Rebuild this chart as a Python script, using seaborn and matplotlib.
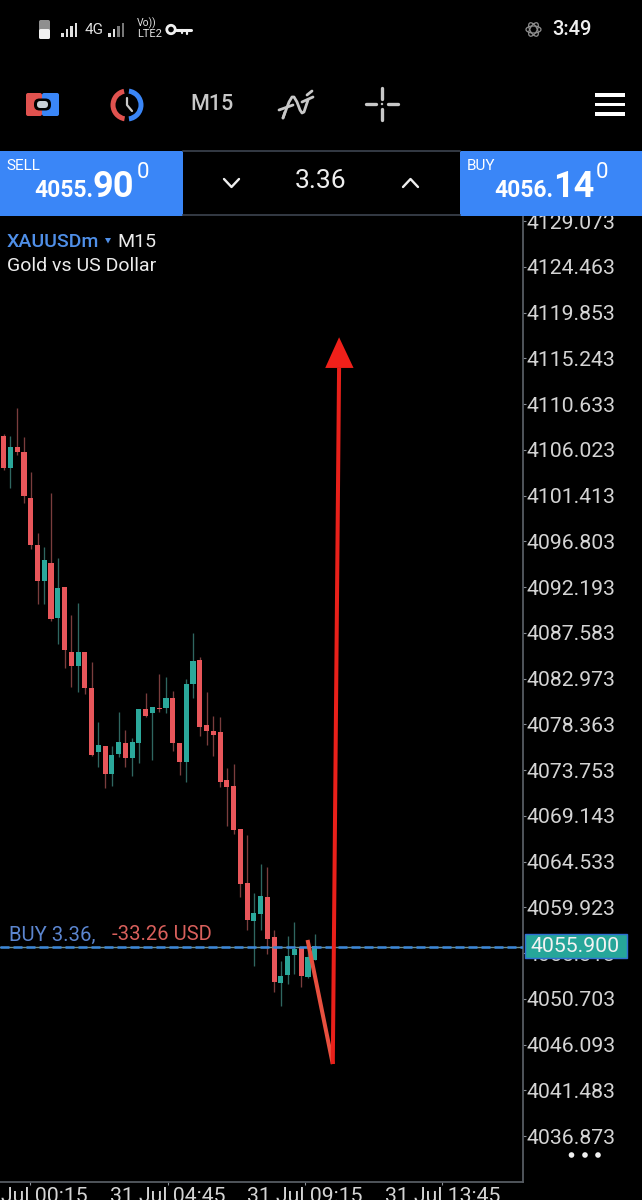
import pandas as pd
import seaborn as sns
import matplotlib
matplotlib.use("Agg")
import matplotlib.pyplot as plt
from matplotlib.patches import Rectangle, FancyBboxPatch, Arc, Circle, Polygon, Wedge

# M15 candles
opens = [4107.45, 4104.19, 4106.28, 4105.79, 4101.17, 4096.43, 4092.80, 4094.59, 4089.07, 4092.17,
         4085.68, 4084.24, 4085.62, 4082.05, 4075.54, 4076.18, 4073.32, 4075.37, 4076.48, 4075.00,
         4076.45, 4079.87, 4079.50, 4080.04, 4080.00, 4081.04, 4076.48, 4074.59, 4082.42, 4084.89,
         4078.29, 4077.72, 4077.62, 4072.75, 4072.14, 4067.78, 4062.34, 4058.57, 4059.25, 4060.99,
         4056.90, 4052.32, 4053.13, 4055.14, 4055.89, 4052.87, 4054.61]
closes = [4104.22, 4106.28, 4105.77, 4101.37, 4096.43, 4092.83, 4094.89, 4088.97, 4092.10, 4085.85,
          4084.24, 4085.68, 4082.05, 4075.24, 4076.25, 4073.32, 4075.27, 4076.58, 4075.00, 4076.55,
          4079.90, 4079.20, 4080.08, 4079.87, 4080.98, 4076.48, 4074.53, 4082.45, 4084.77, 4078.12,
          4077.72, 4077.31, 4072.58, 4072.01, 4067.71, 4062.24, 4058.64, 4059.38, 4061.06, 4056.76,
          4052.42, 4053.00, 4054.98, 4055.75, 4053.00, 4054.88, 4056.02]
highs = [4107.59, 4107.45, 4110.21, 4107.34, 4103.79, 4097.61, 4096.26, 4101.70, 4095.09, 4092.20,
         4089.38, 4090.59, 4085.68, 4084.67, 4078.59, 4076.18, 4076.18, 4079.57, 4077.79, 4077.01,
         4079.90, 4081.49, 4080.14, 4083.40, 4083.16, 4081.75, 4076.48, 4082.93, 4087.53, 4085.17,
         4081.62, 4079.20, 4079.13, 4073.93, 4074.36, 4067.78, 4067.21, 4061.33, 4064.28, 4063.95,
         4057.63, 4054.51, 4057.03, 4058.41, 4055.92, 4056.63, 4057.23]
lows = [4103.96, 4102.20, 4105.50, 4100.63, 4096.03, 4090.48, 4090.48, 4088.80, 4086.42, 4084.01,
        4082.12, 4081.65, 4081.42, 4075.19, 4074.09, 4071.91, 4072.18, 4075.04, 4074.09, 4073.18,
        4074.43, 4079.10, 4074.76, 4079.63, 4079.53, 4075.67, 4073.28, 4072.58, 4080.98, 4077.18,
        4076.28, 4075.20, 4072.01, 4068.11, 4067.28, 4060.96, 4057.63, 4054.01, 4057.63, 4055.19,
        4051.42, 4050.01, 4052.19, 4053.20, 4051.86, 4052.80, 4054.61]

price_ticks = [4036.873, 4041.483, 4046.093, 4050.703, 4055.313, 4059.923, 4064.533, 4069.143,
               4073.753, 4078.363, 4082.973, 4087.583, 4092.193, 4096.803, 4101.413, 4106.023,
               4110.633, 4115.243, 4119.853, 4124.463, 4129.073]
time_ticks = [3.93, 24.23, 44.53, 64.88]
time_labels = ["31 Jul 00:15", "31 Jul 04:45", "31 Jul 09:15", "31 Jul 13:45"]
bid_price = 4055.90

# hand drawn arrow on the chart: (candle index, price)
arrow_x = [44.94, 48.67, 48.97, 49.6]
arrow_y = [4056.63, 4044.13, 4066.70, 4114.27]
head_x = [47.55, 49.6, 51.74]
head_y = [4114.27, 4117.36, 4114.27]

RED = "#e8565a"
TEAL = "#2ba89b"
BLUE = "#3a86f7"
GREY = "#d2d2d2"
FONT = ["Roboto", "DejaVu Sans"]

sns.set_theme(style="dark", rc={
    "figure.facecolor": "black",
    "axes.facecolor": "black",
    "axes.edgecolor": "#565b62",
    "text.color": GREY,
    "xtick.color": "#8a8f96",
    "ytick.color": "#8a8f96",
    "xtick.labelcolor": "#d4d4d4",
    "ytick.labelcolor": "#d4d4d4",
})
plt.rcParams["font.family"] = FONT

df = pd.DataFrame({"i": range(len(opens)), "open": opens, "close": closes, "high": highs, "low": lows})
df["bottom"] = df[["open", "close"]].min(axis=1)
df["body"] = (df["open"] - df["close"]).abs()
df["up"] = df["close"] > df["open"]

W, H = 642, 1200
fig = plt.figure(figsize=(W / 100, H / 100), dpi=100)
ax = fig.add_axes([0, 1 - 1182 / H, 523 / W, (1182 - 216) / H])

# wicks then bodies
for up, wick in [(True, "#2f6660"), (False, "#7a3d3d")]:
    sub = df[df["up"] == up]
    ax.vlines(sub["i"], sub["low"], sub["high"], color=wick, lw=0.95, zorder=1)
for up, body in [(True, TEAL), (False, RED)]:
    sub = df[df["up"] == up]
    sns.barplot(data=sub, x="i", y="body", bottom=sub["bottom"], native_scale=True, color=body,
                saturation=1, width=0.75, linewidth=0, errorbar=None, ax=ax, zorder=2)

# bid line, grey under blue dashes
ax.axhline(bid_price, color="#6f8f8c", lw=1, zorder=3)
ax.axhline(bid_price, color="#3b86d8", lw=1.8, dashes=(3.6, 1.6), zorder=3)
ax.text(0.78, 4056.18, "BUY 3.36,", color="#5c86d0", fontsize=14.6, va="bottom", zorder=5)
ax.text(15.95, 4056.18, "-33.26 USD", color="#d9605c", fontsize=14.6, va="bottom", zorder=5)

# arrow
ax.plot(arrow_x[:2], arrow_y[:2], color="#e8503f", lw=2.9, solid_capstyle="butt", zorder=4)
ax.plot(arrow_x[1:], arrow_y[1:], color="#e8201a", lw=2.9, solid_capstyle="butt", zorder=4)
ax.fill(head_x, head_y, color="#f0201a", lw=0, zorder=4)

ax.set_xlim(-0.547, 76.8)
ax.set_ylim(4032.24, 4129.58)
ax.yaxis.tick_right()
ax.set_yticks(price_ticks, [f"{p:.3f}" for p in price_ticks])
ax.set_xticks(time_ticks, time_labels)
ax.set_xlabel("")
ax.set_ylabel("")
ax.tick_params(axis="y", length=2.2, width=0.8, pad=0.6, labelsize=15.3, left=False, right=True)
ax.tick_params(axis="x", length=2.2, width=0.8, pad=1.5, labelsize=15.3, bottom=True)
for name in ["top", "left"]:
    ax.spines[name].set_visible(False)
for name in ["right", "bottom"]:
    ax.spines[name].set_linewidth(1.3)

# everything around the chart, in screen pixels
ui = fig.add_axes([0, 0, 1, 1])
ui.set_xlim(0, W)
ui.set_ylim(H, 0)
ui.axis("off")
ui.patch.set_alpha(0)


def label(x, y, s, size, color=GREY, ha="left", weight="normal", va="center"):
    ui.text(x, y, s, fontsize=size, color=color, ha=ha, va=va, family=FONT, weight=weight)


ui.add_patch(Rectangle((0, 0), W, 216, color="black", lw=0))

# status bar
ui.add_patch(FancyBboxPatch((39, 20), 11, 19, boxstyle="round,pad=0,rounding_size=1.8", fc="#8f8f8f", lw=0))
ui.add_patch(FancyBboxPatch((39, 29), 11, 10, boxstyle="round,pad=0,rounding_size=1.8", fc="#f0f0f0", lw=0))
for x0 in [61, 108]:
    for k, h in enumerate([4, 8, 11, 14]):
        col = "#e0e0e0" if (x0 == 61 or k < 2) else "#777777"
        ui.add_patch(Rectangle((x0 + k * 4.6, 37 - h), 2.6, h, color=col, lw=0))
label(85, 30, "4G", 11, "#e0e0e0")
label(137, 23, "Vo))", 7.5, "#e0e0e0")
label(137, 34, "LTE2", 8, "#e0e0e0")
ui.add_patch(Circle((171, 29.5), 4.2, fc="none", ec="#f0f0f0", lw=2))
ui.plot([176, 191], [29.5, 29.5], color="#f0f0f0", lw=2.2)
ui.plot([187, 187], [29.5, 34], color="#f0f0f0", lw=1.6)
ui.plot([182, 182], [29.5, 33], color="#f0f0f0", lw=1.6)
for ang in [0, 60, 120]:
    ui.add_patch(Arc((533.5, 29.5), 15, 7, angle=ang, color="#8f8f8f", lw=0.9))
label(552, 29.5, "3:49", 14.5, "#f0f0f0", weight="medium")

# toolbar
ui.add_patch(FancyBboxPatch((26, 93), 16, 23, boxstyle="round,pad=0,rounding_size=2", fc="#e0524f", lw=0))
ui.add_patch(FancyBboxPatch((42, 93), 17, 23, boxstyle="round,pad=0,rounding_size=2", fc=BLUE, lw=0))
ui.add_patch(FancyBboxPatch((34, 98.5), 17, 12, boxstyle="round,pad=0,rounding_size=5.5", fc="black", lw=0))
ui.add_patch(FancyBboxPatch((37, 101), 11, 7, boxstyle="round,pad=0,rounding_size=3.4", fc="#c9d0d6", lw=0))
ui.add_patch(Wedge((127, 105), 16.5, 100, 258, width=5, color="#e0524f", lw=0))
ui.add_patch(Wedge((127, 105), 16.5, -82, 82, width=5, color=BLUE, lw=0))
ui.plot([127, 127, 132], [98, 105, 111], color="#c9c9c9", lw=1.6)
label(212, 104, "M15", 15.5, "#c8c8c8", ha="center", weight="medium")
curve_x = [283, 286, 289, 292, 294, 297, 300, 302, 304, 306, 308]
curve_y = [118, 110, 102, 97, 97, 102, 110, 113, 112, 106, 100]
ui.plot(curve_x, curve_y, color="#c8c8c8", lw=2, solid_capstyle="round")
ui.plot([279, 293], [110, 105], color="#c8c8c8", lw=2, solid_capstyle="round")
ui.plot([302, 313], [102, 97], color="#c8c8c8", lw=2, solid_capstyle="round")
ui.plot([307, 312], [95, 91], color="#c8c8c8", lw=2, solid_capstyle="round")
ui.plot([283, 285], [118, 112], color="#c8c8c8", lw=2, solid_capstyle="round")
for a, b, c, d in [(366, 376, 104, 104), (388, 398, 104, 104), (382, 382, 88, 99), (382, 382, 109, 120)]:
    ui.plot([a, b], [c, d], color="#c8c8c8", lw=2.4, solid_capstyle="round")
ui.add_patch(Circle((382, 104), 1.2, color="#c8c8c8", lw=0))
for y0 in [94.7, 104.3, 113.7]:
    ui.add_patch(Rectangle((595, y0 - 1.8), 30, 3.6, color="white", lw=0))

# order panel
ui.plot([183, 460], [151, 151], color="#343a44", lw=1.4)
ui.plot([183, 460], [215, 215], color="#343a44", lw=1.4)
ui.add_patch(Rectangle((0, 151), 183, 65, color=BLUE, lw=0))
ui.add_patch(Rectangle((460, 151), 182, 65, color=BLUE, lw=0))
label(6.5, 166, "SELL", 11, "white")
label(34, 197, "4055.", 16.5, "white", weight="bold", va="baseline")
label(93, 197, "90", 26, "white", weight="bold", va="baseline")
label(136.5, 172, "0", 16, "white")
label(467, 166, "BUY", 11, "white")
label(494, 197, "4056.", 16.5, "white", weight="bold", va="baseline")
label(553, 197, "14", 26, "white", weight="bold", va="baseline")
label(596, 172, "0", 16, "white")
label(321, 181, "3.36", 19, "#eeeeee", ha="center")
ui.plot([224, 231.5, 239], [179, 187, 179], color="#eeeeee", lw=1.7)
ui.plot([403, 410.5, 418], [187, 179, 187], color="#eeeeee", lw=1.7)

# symbol
label(7, 242, "XAUUSDm", 14, "#4f8fe8", weight="medium")
ui.add_patch(Polygon([[105, 238], [111, 238], [108, 243.5]], color="#4f8fe8", lw=0))
label(117, 242, "M15", 14, "#ececec")
label(7, 266, "Gold vs US Dollar", 14, "#ececec")

# bid price box
ui.add_patch(Rectangle((525, 934), 102, 24, fc="#26a69a", ec="#2f6fd0", lw=1))
label(575, 947, "4055.900", 15.3, "#f2f2f2", ha="center")
for x0 in [571.5, 585, 598]:
    ui.add_patch(Circle((x0, 1155), 2.8, color="#f0f0f0", lw=0))

fig.savefig("out.png", dpi=100, facecolor="black")
